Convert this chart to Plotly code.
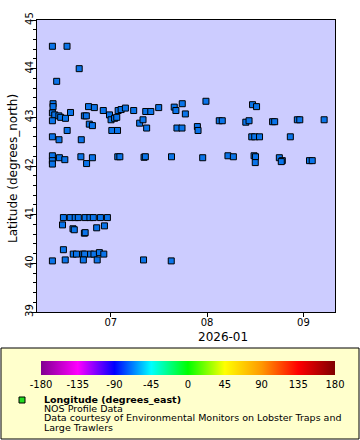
import plotly.graph_objects as go

# ---- data (time, latitude) ----
times = [
    "2026-06-12 05:00", "2026-06-16 22:00", "2026-06-20 20:00", "2026-06-13 14:00",
    # band near 43
    "2026-06-12 10:00", "2026-06-12 10:00", "2026-06-23 20:00", "2026-06-25 17:00",
    "2026-06-28 14:00", "2026-07-03 09:00", "2026-07-04 08:00", "2026-07-05 17:00",
    "2026-07-08 09:00", "2026-07-12 06:00", "2026-07-13 21:00", "2026-07-16 10:00",
    "2026-07-21 10:00", "2026-07-21 23:00", "2026-07-24 00:00", "2026-07-25 00:00",
    "2026-06-12 05:00", "2026-06-12 23:00", "2026-06-14 07:00", "2026-06-14 21:00",
    "2026-06-16 10:00", "2026-06-12 05:00", "2026-06-18 01:00", "2026-06-22 12:00",
    "2026-06-23 03:00", "2026-06-30 14:00", "2026-07-01 02:00", "2026-07-02 05:00",
    "2026-07-02 22:00", "2026-07-10 07:00", "2026-07-11 09:00", "2026-06-24 02:00",
    "2026-06-25 02:00", "2026-07-12 13:00", "2026-06-16 23:00", "2026-07-01 08:00",
    "2026-07-03 04:00", "2026-07-22 07:00", "2026-07-23 22:00", "2026-06-12 05:00",
    "2026-06-14 08:00", "2026-06-21 12:00",
    # band near 42.2
    "2026-06-12 05:00", "2026-06-12 05:00", "2026-06-12 05:00", "2026-06-14 11:00",
    "2026-06-16 05:00", "2026-06-21 09:00", "2026-06-23 05:00", "2026-06-25 02:00",
    "2026-07-03 06:00", "2026-07-03 22:00", "2026-07-11 17:00", "2026-07-12 03:00",
    "2026-07-20 13:00",
    # right side
    "2026-07-31 15:00", "2026-08-15 15:00", "2026-08-16 22:00", "2026-08-04 22:00",
    "2026-08-05 21:00", "2026-08-13 11:00", "2026-08-14 12:00", "2026-08-22 02:00",
    "2026-08-22 18:00", "2026-08-30 01:00", "2026-08-30 20:00", "2026-09-07 16:00",
    "2026-07-28 21:00", "2026-07-29 02:00", "2026-08-15 09:00", "2026-08-16 08:00",
    "2026-08-17 21:00", "2026-08-27 19:00", "2026-07-30 14:00", "2026-08-07 17:00",
    "2026-08-09 11:00", "2026-08-16 03:00", "2026-08-16 14:00", "2026-08-16 12:00",
    "2026-08-24 06:00", "2026-08-25 05:00", "2026-08-24 21:00", "2026-09-02 23:00",
    "2026-09-03 20:00",
    # lower cluster
    "2026-06-15 18:00", "2026-06-17 23:00", "2026-06-19 13:00", "2026-06-20 13:00",
    "2026-06-22 18:00", "2026-06-24 07:00", "2026-06-25 09:00", "2026-06-27 16:00",
    "2026-06-29 22:00", "2026-06-15 11:00", "2026-06-18 20:00", "2026-06-19 06:00",
    "2026-06-22 12:00", "2026-06-22 18:00", "2026-06-26 11:00", "2026-06-28 23:00",
    "2026-06-15 18:00", "2026-06-12 05:00", "2026-06-16 08:00", "2026-06-18 22:00",
    "2026-06-19 23:00", "2026-06-22 00:00", "2026-06-22 14:00", "2026-06-22 04:00",
    "2026-06-24 12:00", "2026-06-25 14:00", "2026-06-27 08:00", "2026-06-28 18:00",
    "2026-06-26 15:00", "2026-07-11 13:00", "2026-07-20 11:00",
]
latitudes = [
    44.46, 44.46, 44.00, 43.74,
    43.28, 43.22, 43.22, 43.20,
    43.14, 43.14, 43.16, 43.19,
    43.14, 43.12, 43.12, 43.20,
    43.21, 43.14, 43.28, 43.07,
    43.09, 43.05, 43.03, 43.00,
    42.98, 42.93, 43.10, 43.03,
    43.03, 43.05, 42.95, 42.98,
    43.00, 42.88, 42.95, 42.86,
    42.83, 42.78, 42.73, 42.73,
    42.73, 42.78, 42.78, 42.60,
    42.54, 42.54,
    42.21, 42.11, 42.04, 42.17,
    42.13, 42.19, 42.05, 42.17,
    42.19, 42.19, 42.18, 42.19,
    42.19,
    43.33, 43.26, 43.22, 42.93,
    42.93, 42.90, 42.93, 42.91,
    42.91, 42.95, 42.95, 42.95,
    42.81, 42.73, 42.60, 42.60,
    42.60, 42.60, 42.17, 42.21,
    42.19, 42.21, 42.19, 42.07,
    42.17, 42.11, 42.09, 42.11,
    42.11,
    40.94, 40.94, 40.94, 40.94,
    40.94, 40.94, 40.94, 40.94,
    40.94, 40.79, 40.71, 40.69,
    40.62, 40.63, 40.73, 40.77,
    40.28, 40.05, 40.07, 40.19,
    40.19, 40.19, 40.19, 40.07,
    40.19, 40.19, 40.22, 40.19,
    40.07, 40.07, 40.05,
]

cbar_ticks = [-180, -135, -90, -45, 0, 45, 90, 135, 180]
cbar_colors = ["#800090", "#ff00ff", "#0000ff", "#00ffff", "#00ff00",
               "#ffff00", "#ff9900", "#ff0000", "#800000"]
legend_lines = ["NOS Profile Data",
                "Data courtesy of Environmental Monitors on Lobster Traps and",
                "Large Trawlers"]

FONT = "DejaVu Sans"
W, H = 360, 440
L, R, T, B = 37, 25, 20, 128
PW, PH = W - L - R, H - T - B


def px(x):
    return (x - L) / PW


def py(y):
    return (H - B - y) / PH


colorscale = [[(v + 180) / 360, c] for v, c in zip(cbar_ticks, cbar_colors)]

fig = go.Figure()
fig.add_trace(go.Scatter(
    x=times, y=latitudes, mode="markers", showlegend=False,
    marker=dict(symbol="square", size=6, color="#0a74ea",
                line=dict(color="black", width=1)),
))
# colorbar carrier
fig.add_trace(go.Scatter(
    x=[None], y=[None], mode="markers", showlegend=False, hoverinfo="skip",
    marker=dict(color=[0], cmin=-180, cmax=180, colorscale=colorscale,
                showscale=True,
                colorbar=dict(orientation="h", lenmode="pixels", len=294,
                              thickness=14, x=px(188), xanchor="center",
                              y=py(361), yanchor="top", outlinewidth=0,
                              tickvals=cbar_ticks,
                              ticktext=[str(v) for v in cbar_ticks],
                              ticks="", ticklabelposition="outside bottom",
                              tickfont=dict(family=FONT, size=10, color="black"),
                              bgcolor="rgba(0,0,0,0)", xpad=0, ypad=0)),
))

fig.update_layout(
    width=W, height=H, margin=dict(l=L, r=R, t=T, b=B, autoexpand=False),
    paper_bgcolor="white", plot_bgcolor="#ccccff",
    font=dict(family=FONT, size=10, color="black"),
    xaxis=dict(range=["2026-06-07 06:00", "2026-09-11 04:00"], type="date",
               tickvals=["2026-07-01", "2026-08-01", "2026-09-01"],
               ticktext=["07", "08", "09"],
               ticks="outside", ticklen=4, tickcolor="black",
               ticklabelstandoff=-3,
               showgrid=False, zeroline=False, showline=True, linecolor="black",
               linewidth=1, mirror=True,
               tickfont=dict(family=FONT, size=10)),
    yaxis=dict(range=[39, 45], dtick=1, tick0=39, ticks="outside", ticklen=5,
               tickcolor="black", tickangle=-90, ticklabelstandoff=-6,
               showgrid=False, zeroline=False, showline=True, linecolor="black",
               linewidth=1, mirror=True,
               tickfont=dict(family=FONT, size=10),
               minor=dict(dtick=0.2, ticks="outside", ticklen=3,
                          tickcolor="black", showgrid=False)),
)

# legend box
fig.add_shape(type="rect", xref="paper", yref="paper",
              x0=px(1), x1=px(359), y0=py(439), y1=py(348),
              fillcolor="#ffffcc", line=dict(color="black", width=1), layer="below")
fig.add_shape(type="rect", xref="paper", yref="paper",
              x0=px(19), x1=px(25), y0=py(403), y1=py(397),
              fillcolor="#22dd22", line=dict(color="black", width=1))

ann = []
ann.append(dict(text="Latitude (degrees_north)", x=px(13), y=py(169),
                textangle=-90, font=dict(size=12)))
ann.append(dict(text="2026-01", x=px(223), y=py(337), font=dict(size=12)))
ann.append(dict(text="<b>Longitude (degrees_east)</b>", x=px(42), y=py(400),
                xanchor="left", font=dict(size=9.5)))
for i, t in enumerate(legend_lines):
    ann.append(dict(text=t, x=px(42), y=py(409 + 9 * i), xanchor="left",
                    font=dict(size=9.5)))
for a in ann:
    a.update(xref="paper", yref="paper", showarrow=False)
    a.setdefault("xanchor", "center")
    a["yanchor"] = "middle"
    fig.add_annotation(**a)

fig.write_html("out.html",
               config={"displayModeBar": False},
               post_script="document.body.style.margin='0';"
                           "document.body.style.overflow='hidden';")
